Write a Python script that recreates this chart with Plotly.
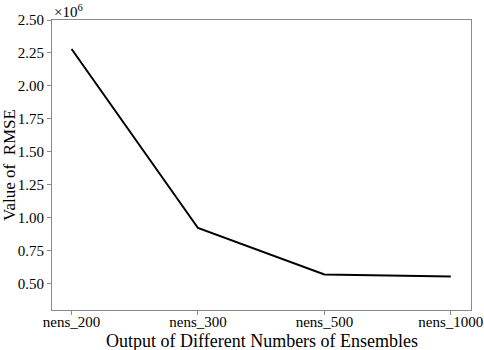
import plotly.graph_objects as go

categories = ["nens_200", "nens_300", "nens_500", "nens_1000"]
rmse_values = [2.28e6, 0.922e6, 0.57e6, 0.555e6]
scale = 1e6
y_ticks = [0.50, 0.75, 1.00, 1.25, 1.50, 1.75, 2.00, 2.25, 2.50]
x_title = "Output of Different Numbers of Ensembles"
y_title = "Value of  RMSE"

font_family = "Liberation Serif, Times New Roman, serif"

fig = go.Figure()
fig.add_trace(go.Scatter(
    x=categories,
    y=[v / scale for v in rmse_values],
    mode="lines",
    line=dict(color="black", width=2),
    showlegend=False,
))

axis_common = dict(
    showline=True, linecolor="#8a8a8a", linewidth=1, mirror=True,
    ticks="outside", ticklen=4, tickcolor="#8a8a8a", tickwidth=1,
    showgrid=False, zeroline=False, automargin=False,
    tickfont=dict(family=font_family, size=15, color="black"),
)

fig.update_layout(
    width=484, height=350,
    margin=dict(l=52, r=13, t=20, b=40),
    plot_bgcolor="white", paper_bgcolor="white",
    font=dict(family=font_family, color="black"),
    xaxis=dict(
        type="category", range=[-0.155, 3.16], ticklabelstandoff=-6,
        **axis_common,
    ),
    yaxis=dict(
        range=[0.3, 2.5], tickvals=y_ticks, tickformat=".2f",
        title=dict(text=y_title,
                   font=dict(family=font_family, size=17, color="black"), standoff=3),
        **axis_common,
    ),
    annotations=[
        dict(
            text="×10<sup>6</sup>", xref="paper", yref="paper", x=0, y=1,
            xanchor="left", yanchor="bottom", showarrow=False,
            font=dict(family=font_family, size=15, color="black"), yshift=-2,
        ),
        dict(
            text=x_title, xref="paper", yref="paper", x=0.5, y=0,
            xanchor="center", yanchor="top", showarrow=False, yshift=-19,
            font=dict(family=font_family, size=18, color="black"),
        ),
    ],
)

fig.write_html(
    "out.html",
    config={"displayModeBar": False},
    post_script="document.body.style.margin='0';document.body.style.overflow='hidden';",
)
